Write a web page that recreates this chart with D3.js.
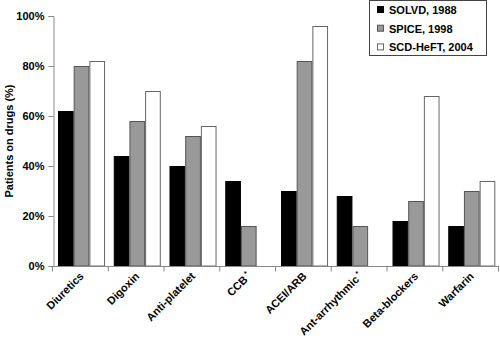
<!DOCTYPE html>
<html><head><meta charset="utf-8">
<script src="https://cdn.jsdelivr.net/npm/d3@7"></script>
<style>
body{margin:0;background:#fff;}
text{font-family:"Liberation Sans",Arial,Helvetica,sans-serif;font-weight:bold;}
</style></head>
<body><svg id="c" width="500" height="346"></svg>
<script>
const categories = ["Diuretics","Digoxin","Anti-platelet","CCB","ACEI/ARB","Ant-arrhythmic","Beta-blockers","Warfarin"];
const starred = ["CCB","Ant-arrhythmic"];
const seriesNames = ["SOLVD, 1988","SPICE, 1998","SCD-HeFT, 2004"];
const solvd = [62,44,40,34,30,28,18,16];
const spice = [80,58,52,16,82,16,26,30];
const scdheft = [82,70,56,null,96,null,68,34];
const yTicks = [0,20,40,60,80,100];

const fills = ["#000000","#999999","#ffffff"];
const strokes = ["#000000","#555555","#666666"];
const seriesVals = [solvd, spice, scdheft];

const svg = d3.select("#c");
const x0 = d3.scaleBand().domain(categories).range([53,499]).padding(0);
const x1 = d3.scaleBand().domain(d3.range(3)).range([5, x0.bandwidth()-3.7]).padding(0);
const y = d3.scaleLinear().domain([0,100]).range([266,16]);

// bars
seriesVals.forEach((vals,si)=>{
  svg.append("g").selectAll("rect").data(categories.map((c,i)=>({c,v:vals[i]})).filter(d=>d.v!=null))
    .join("rect")
    .attr("x",d=>x0(d.c)+x1(si)+0.5)
    .attr("y",d=>y(d.v)+0.5)
    .attr("width",x1.bandwidth()-1)
    .attr("height",d=>y(0)-y(d.v)-0.5)
    .attr("fill",fills[si]).attr("stroke",strokes[si]).attr("stroke-width",1);
});

// y axis
const ya = svg.append("g").attr("transform","translate(53.5,0)")
  .call(d3.axisLeft(y).tickValues(yTicks).tickFormat(d=>d+"%").tickSize(5).tickPadding(4));
ya.select(".domain").attr("stroke","#888");
ya.selectAll(".tick line").attr("stroke","#888");
ya.selectAll(".tick text").attr("font-size",11).attr("font-weight","bold").attr("fill","#000")
  .attr("font-family","Liberation Sans, Arial, sans-serif");

// x axis
const xa = svg.append("g").attr("transform","translate(0,266.5)");
xa.append("line").attr("x1",53).attr("x2",499).attr("stroke","#888");
const bounds = categories.map(c=>x0(c)).concat([x0.range()[1]]);
xa.selectAll("line.t").data(bounds).join("line").attr("class","t")
  .attr("x1",d=>d-0.5).attr("x2",d=>d-0.5).attr("y1",0).attr("y2",5).attr("stroke","#888");
xa.selectAll("text").data(categories).join("text")
  .attr("transform",d=>`translate(${x0(d)+x0.bandwidth()/2-2},${5}) rotate(-45)`)
  .attr("text-anchor","end").attr("dy","0.7em").attr("font-size",11).attr("fill","#000")
  .each(function(d){
    const t=d3.select(this);
    t.append("tspan").text(d);
    if(starred.includes(d)){
      t.append("tspan").text(" *").attr("font-size",7).attr("dy","-0.6em");
    }
  });

// y title
svg.append("text").attr("transform","translate(13,141) rotate(-90)")
  .attr("text-anchor","middle").attr("font-size",11).attr("fill","#000")
  .text("Patients on drugs (%)");

// legend
const lg = svg.append("g");
lg.append("rect").attr("x",369.5).attr("y",0.5).attr("width",117).attr("height",55)
  .attr("fill","#fff").attr("stroke","#444");
seriesNames.forEach((n,i)=>{
  const yy = 10 + i*18.7;
  lg.append("rect").attr("x",377.5).attr("y",yy-3.5).attr("width",6).attr("height",6)
    .attr("fill",fills[i]).attr("stroke",strokes[i]);
  lg.append("text").attr("x",389).attr("y",yy).attr("dy","0.35em").attr("font-size",11)
    .attr("fill","#000").text(n);
});
</script></body></html>
